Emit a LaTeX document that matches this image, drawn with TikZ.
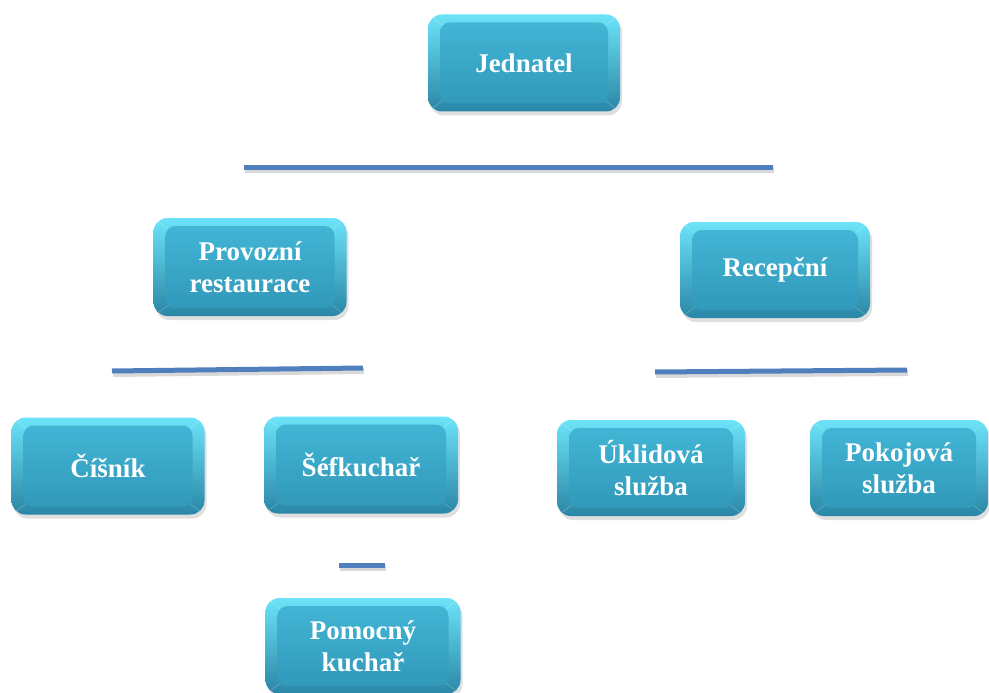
\documentclass[tikz,border=0pt]{standalone}
\usepackage{fontspec}
\setmainfont{Liberation Serif}
\usepackage{tikz}
\usetikzlibrary{shadows}

\definecolor{edgetop}{HTML}{6CE3F8}
\definecolor{edgebot}{HTML}{2A86A6}
\definecolor{facetop}{HTML}{44B8D7}
\definecolor{facebot}{HTML}{3096B7}
\definecolor{rulebl}{HTML}{4F7FBD}

\tikzset{
  post/.style={rectangle, rounded corners=14pt, draw=none, top color=edgetop, bottom color=edgebot,
    minimum width=192pt, minimum height=97pt, inner sep=0pt, align=center, text=white,
    font=\fontsize{27}{32}\selectfont\bfseries,
    drop shadow={shadow xshift=2pt, shadow yshift=-4pt, opacity=.25},
    path picture={
      \shade[top color=facetop, bottom color=facebot, rounded corners=10pt]
        ([shift={(12pt,-8pt)}]path picture bounding box.north west) rectangle
        ([shift={(-12pt,8pt)}]path picture bounding box.south east);
      \draw[white, opacity=.2, line width=.8pt]
        (path picture bounding box.north west) -- ++(15pt,-11pt)
        (path picture bounding box.north east) -- ++(-15pt,-11pt)
        (path picture bounding box.south west) -- ++(15pt,11pt)
        (path picture bounding box.south east) -- ++(-15pt,11pt);
    }},
  rule/.style={draw=rulebl, line width=5pt,
    preaction={draw=black, opacity=.15, line width=6pt, transform canvas={shift={(1pt,-3pt)}}}}
}

\begin{document}
\begin{tikzpicture}[x=1pt, y=-1pt]
	\useasboundingbox (0,0) rectangle (989,693);
	%Top
	\node [post] (jednatel) at (524,63) {Jednatel};
	\coordinate (r1a) at (244,167);
	\coordinate (r1b) at (773,167);
	\draw[rule] (r1a) -- (r1b);
	%Departments
	\node [post, minimum width=193pt, minimum height=98pt] (provozni) at (250,267) {Provozní\\restaurace};
	\node [post, minimum width=190pt, minimum height=96pt] (recepcni) at (775,270) {Recepční};
	\coordinate (r2a) at (112,371);
	\coordinate (r2b) at (363,368);
	\draw[rule] (r2a) -- (r2b);
	\coordinate (r3a) at (655,372);
	\coordinate (r3b) at (907,370);
	\draw[rule] (r3a) -- (r3b);
	%Staff
	\node [post, minimum width=193pt] (cisnik) at (108,466) {Číšník};
	\node [post, minimum width=194pt] (sefkuchar) at (361,465) {Šéfkuchař};
	\node [post, minimum width=188pt, minimum height=96pt] (uklid) at (651,468) {Úklidová\\služba};
	\node [post, minimum width=178pt, minimum height=96pt] (pokoj) at (899,468) {Pokojová\\služba};
	%Kitchen help
	\coordinate (r4a) at (339,565);
	\coordinate (r4b) at (385,565);
	\draw[rule] (r4a) -- (r4b);
	\node [post, minimum width=195pt, minimum height=96pt] (pomocny) at (363,646) {Pomocný\\kuchař};
\end{tikzpicture}
\end{document}
